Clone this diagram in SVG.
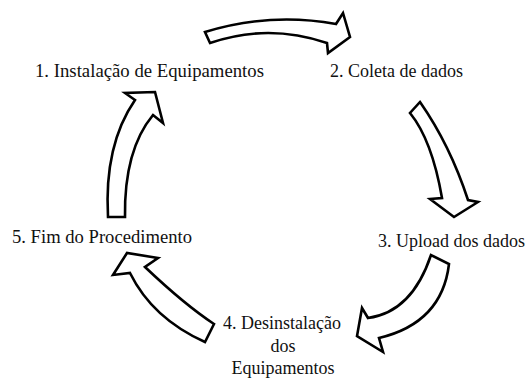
<svg xmlns="http://www.w3.org/2000/svg" width="528" height="378" viewBox="0 0 528 378">
<style>
.arr{fill:#fff;stroke:#000;stroke-width:2.6;stroke-linejoin:miter;stroke-miterlimit:10}
text{font-family:'Liberation Serif','Times New Roman',serif;font-size:18px;fill:#111}
</style>
<rect width="528" height="378" fill="#fff"/>
<g id="connectors">
<path class="arr" d="M205,32 Q270,12 336,24 L343,13 L350,37 L328,53 L327,43 Q268,23 210,43 Z"/>
<path class="arr" d="M410,113 Q432,140 442,198 L430,199 L454,217 L478,202 L468,200 Q450,145 420,102 Z"/>
<path class="arr" d="M449,264 Q442,323 379,338 L383,352 L357,336 L362,308 L368,318 Q412,312 431,255 Z"/>
<path class="arr" d="M214,324 Q184.5,304.5 145,267 L158,258 L127,253 L113,275 L130,273 Q152.5,318.5 205,342 Z"/>
<path class="arr" d="M108,217 Q104,145 135,100 L125,93 L155,92 L163,123 L153,115 Q124,150 125,217 Z"/>
</g>
<g id="n1"><text x="35" y="77" textLength="229" lengthAdjust="spacingAndGlyphs">1. Instalação de Equipamentos</text></g>
<g id="n2"><text x="330" y="77">2. Coleta de dados</text></g>
<g id="n3"><text x="378" y="247">3. Upload dos dados</text></g>
<g id="n4"><text text-anchor="middle"><tspan x="282" y="329">4. Desinstalação</tspan><tspan x="283" y="352">dos</tspan><tspan x="283" y="374">Equipamentos</tspan></text></g>
<g id="n5"><text x="12" y="243" textLength="180" lengthAdjust="spacingAndGlyphs">5. Fim do Procedimento</text></g>
</svg>
